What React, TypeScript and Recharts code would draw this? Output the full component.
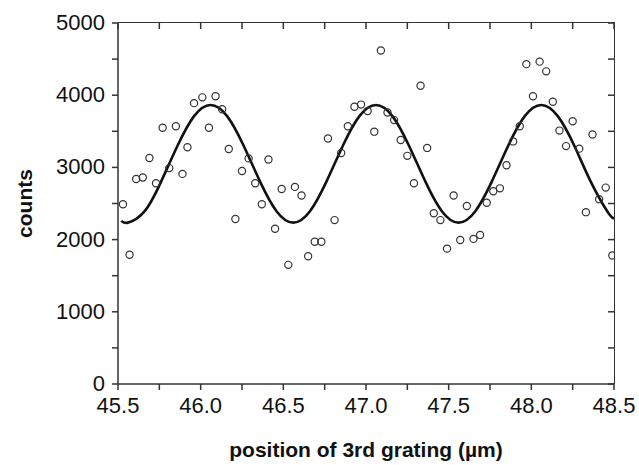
import { ComposedChart, Scatter, Line, XAxis, YAxis, Label, CartesianGrid } from "recharts";

// measured points: grating position (µm) and counts
const positions = [
  45.53, 45.57, 45.61, 45.65, 45.69, 45.73, 45.77, 45.81, 45.85, 45.89,
  45.92, 45.96, 46.01, 46.05, 46.09, 46.13, 46.17, 46.21, 46.25, 46.29,
  46.33, 46.37, 46.41, 46.45, 46.49, 46.53, 46.57, 46.61, 46.65, 46.69,
  46.73, 46.77, 46.81, 46.85, 46.89, 46.93, 46.97, 47.01, 47.05, 47.09,
  47.13, 47.17, 47.21, 47.25, 47.29, 47.33, 47.37, 47.41, 47.45, 47.49,
  47.53, 47.57, 47.61, 47.65, 47.69, 47.73, 47.77, 47.81, 47.85, 47.89,
  47.93, 47.97, 48.01, 48.05, 48.09, 48.13, 48.17, 48.21, 48.25, 48.29,
  48.33, 48.37, 48.41, 48.45, 48.49,
];
const counts = [
  2490, 1790, 2840, 2860, 3130, 2780, 3550, 2990, 3570, 2910,
  3280, 3890, 3970, 3550, 3985, 3805, 3255, 2285, 2950, 3125,
  2780, 2490, 3110, 2150, 2700, 1650, 2730, 2610, 1770, 1970,
  1970, 3400, 2270, 3200, 3570, 3840, 3870, 3780, 3495, 4620,
  3760, 3655, 3380, 3160, 2780, 4130, 3270, 2365, 2270, 1875,
  2610, 1995, 2465, 2010, 2065, 2510, 2670, 2710, 3030, 3360,
  3570, 4430, 3985, 4465, 4330, 3910, 3510, 3295, 3640, 3260,
  2380, 3455, 2560, 2720, 1780,
];

// fitted curve
const fitPositions = [
  45.52, 45.56, 45.66, 45.76, 45.86, 45.96, 46.06, 46.16, 46.26, 46.36,
  46.46, 46.56, 46.66, 46.76, 46.86, 46.96, 47.06, 47.16, 47.26, 47.36,
  47.46, 47.56, 47.66, 47.76, 47.86, 47.96, 48.06, 48.16, 48.26, 48.36,
  48.46, 48.5,
];
const fitCounts = [
  2260, 2235, 2390, 2800, 3300, 3710, 3865, 3710, 3300, 2800,
  2390, 2235, 2390, 2800, 3300, 3710, 3865, 3710, 3300, 2800,
  2390, 2235, 2390, 2800, 3300, 3710, 3865, 3710, 3300, 2800,
  2390, 2290,
];

const xTicks = [45.5, 45.75, 46, 46.25, 46.5, 46.75, 47, 47.25, 47.5, 47.75, 48, 48.25, 48.5];
const yTicks = [0, 500, 1000, 1500, 2000, 2500, 3000, 3500, 4000, 4500, 5000];

const points = positions.map((x, i) => ({ x, y: counts[i] }));
const fit = fitPositions.map((x, i) => ({ x, y: fitCounts[i] }));

const FONT = "'Liberation Sans', Arial, Helvetica, sans-serif";
const INK = "#111";
const AXIS = "#333";

const XTick = ({ x, y, payload }: any) => {
  const v = payload.value;
  if (Math.round(v * 100) % 50 !== 0) return <g />;
  return (
    <text x={x} y={y + 21} textAnchor="middle" fontSize={22} fontFamily={FONT} fill={INK}>
      {v.toFixed(1)}
    </text>
  );
};

const YTick = ({ x, y, payload }: any) => {
  const v = payload.value;
  if (v % 1000 !== 0) return <g />;
  return (
    <text x={x - 5} y={y - 1} dy="0.36em" textAnchor="end" fontSize={22} fontFamily={FONT} fill={INK}>
      {v}
    </text>
  );
};

const Ring = ({ cx, cy }: any) => (
  <circle cx={cx} cy={cy} r={3.6} fill="none" stroke="#333" strokeWidth={1.2} />
);

// grid lines reduced to short inward ticks on the top and right frame edges
const TopTick = (p: any) => {
  const top = Math.min(p.y1, p.y2);
  return <line key={`v${p.x1}`} x1={p.x1} y1={top} x2={p.x1} y2={top + 6} stroke={AXIS} strokeWidth={1.5} />;
};
const RightTick = (p: any) => {
  const right = Math.max(p.x1, p.x2);
  return <line key={`h${p.y1}`} x1={right} y1={p.y1} x2={right - 6} y2={p.y1} stroke={AXIS} strokeWidth={1.5} />;
};

export default function App() {
  return (
    <div style={{ position: "relative", width: 639, height: 465 }}>
      <style>{`body{margin:0}`}</style>
      <ComposedChart width={639} height={465} margin={{ top: 23, right: 25, bottom: 0, left: 0 }}>
        <CartesianGrid vertical={TopTick} horizontal={RightTick} />
        <XAxis
          dataKey="x"
          type="number"
          domain={[45.5, 48.5]}
          ticks={xTicks}
          allowDataOverflow
          height={81}
          tickSize={6}
          tick={<XTick />}
          stroke={AXIS}
          strokeWidth={1.5}
        >
          <Label
            content={({ viewBox }: any) => (
              <text
                x={viewBox.x + viewBox.width / 2}
                y={viewBox.y + 73}
                textAnchor="middle"
                fontSize={21}
                fontWeight="bold"
                fontFamily={FONT}
                fill={INK}
              >
                position of 3rd grating (µm)
              </text>
            )}
          />
        </XAxis>
        <YAxis
          type="number"
          domain={[0, 5000]}
          ticks={yTicks}
          allowDataOverflow
          width={118}
          tickSize={6}
          tick={<YTick />}
          stroke={AXIS}
          strokeWidth={1.5}
        >
          <Label
            content={({ viewBox }: any) => {
              const cx = viewBox.x + 24;
              const cy = viewBox.y + viewBox.height / 2;
              return (
                <text
                  x={cx}
                  y={cy}
                  transform={`rotate(-90 ${cx} ${cy})`}
                  textAnchor="middle"
                  dominantBaseline="central"
                  fontSize={21}
                  fontWeight="bold"
                  fontFamily={FONT}
                  fill={INK}
                >
                  counts
                </text>
              );
            }}
          />
        </YAxis>
        <Line
          data={fit}
          dataKey="y"
          type="natural"
          stroke="#111"
          strokeWidth={2.6}
          dot={false}
          activeDot={false}
          isAnimationActive={false}
        />
        <Scatter data={points} dataKey="y" shape={<Ring />} isAnimationActive={false} />
      </ComposedChart>
      {/* top and right edges of the box frame */}
      <div
        style={{
          position: "absolute",
          left: 118,
          top: 22,
          width: 497,
          height: 362,
          boxSizing: "border-box",
          borderTop: `1.5px solid ${AXIS}`,
          borderRight: `1.5px solid ${AXIS}`,
          pointerEvents: "none",
        }}
      />
    </div>
  );
}
